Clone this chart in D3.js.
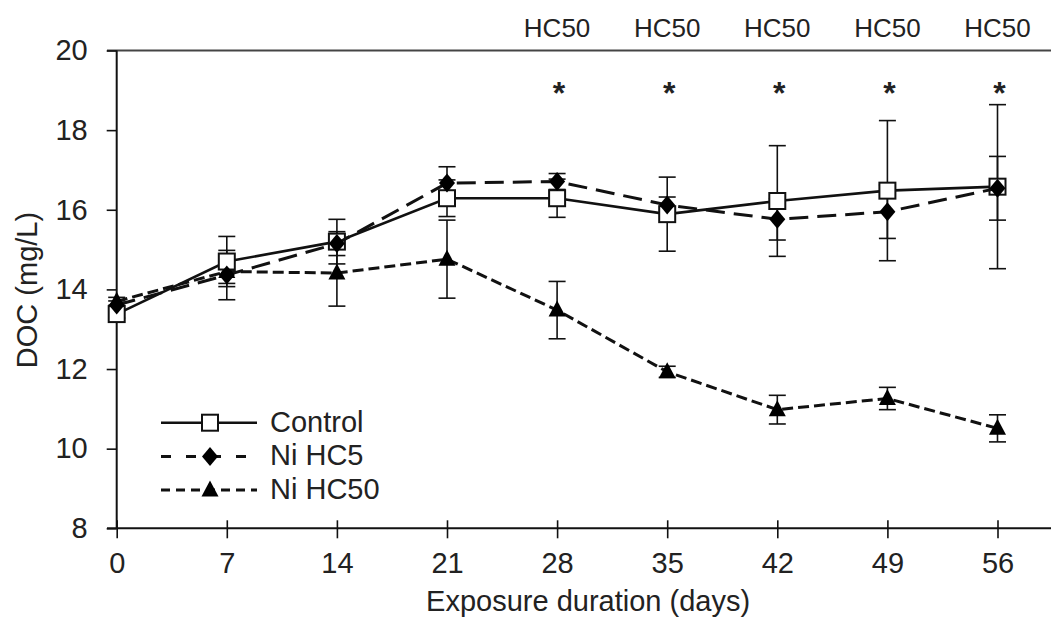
<!DOCTYPE html>
<html>
<head>
<meta charset="utf-8">
<script src="https://cdn.jsdelivr.net/npm/d3@7/dist/d3.min.js"></script>
<style>
  html, body { margin: 0; padding: 0; background: #fff; }
  svg { display: block; }
  text { font-family: "Liberation Sans", Arial, sans-serif; fill: #222; }
</style>
</head>
<body>
<svg id="chart" width="1051" height="618"></svg>
<script>
// Sampling days
const days = [0, 7, 14, 21, 28, 35, 42, 49, 56];

// Mean DOC (mg/L) per treatment
const control   = [13.38, 14.70, 15.20, 16.29, 16.29, 15.89, 16.22, 16.48, 16.58];
const niHC5     = [13.61, 14.36, 15.15, 16.67, 16.71, 16.12, 15.76, 15.95, 16.54];
const niHC50    = [13.70, 14.45, 14.41, 14.76, 13.48, 11.93, 10.98, 11.26, 10.51];

// Standard deviations
const controlSD = [0.10, 0.63, 0.56, 0.46, 0.48, 0.93, 1.39, 1.76, 2.06];
const niHC5SD   = [0.10, 0.62, 0.30, 0.41, 0.20, 0.20, 0.52, 0.67, 0.80];
const niHC50SD  = [0.10, 0.30, 0.83, 0.98, 0.72, 0.14, 0.36, 0.28, 0.34];

// Days where Ni HC50 differs significantly from control
const sigDays   = [28, 35, 42, 49, 56];
const sigLabel  = "HC50";

const yTicks = [8, 10, 12, 14, 16, 18, 20];
const seriesNames = ["Control", "Ni HC5", "Ni HC50"];

const svg = d3.select("#chart");
const x = d3.scaleLinear().domain([0, 56]).range([116.7, 997.5]);
const y = d3.scaleLinear().domain([8, 20]).range([528.3, 50.5]);

const xLeft = 107, xRight = 1051;

// Top frame line
svg.append("line")
  .attr("x1", xLeft).attr("x2", xRight)
  .attr("y1", y(20)).attr("y2", y(20))
  .attr("stroke", "#444").attr("stroke-width", 2);

// Y axis
const yAxis = svg.append("g")
  .attr("transform", `translate(${x(0)},0)`)
  .call(d3.axisLeft(y).tickValues(yTicks).tickSizeInner(10).tickSizeOuter(0).tickPadding(19));
yAxis.select(".domain").remove();
yAxis.selectAll(".tick line").attr("stroke", "#111").attr("stroke-width", 1.6);
yAxis.selectAll(".tick text").attr("font-size", 29).style("font-family", "'Liberation Sans', Arial, sans-serif").attr("fill", "#222");
svg.append("line")
  .attr("x1", x(0)).attr("x2", x(0))
  .attr("y1", y(20)).attr("y2", y(8))
  .attr("stroke", "#111").attr("stroke-width", 2);

// X axis
const xAxis = svg.append("g")
  .attr("transform", `translate(0,${y(8)})`)
  .call(d3.axisBottom(x).tickValues(days).tickSizeInner(10).tickSizeOuter(0).tickPadding(14));
xAxis.select(".domain").remove();
xAxis.selectAll(".tick line").attr("y1", -8).attr("y2", 10).attr("stroke", "#111").attr("stroke-width", 1.6);
xAxis.selectAll(".tick text").attr("font-size", 29).style("font-family", "'Liberation Sans', Arial, sans-serif").attr("fill", "#222");
svg.append("line")
  .attr("x1", xLeft).attr("x2", xRight)
  .attr("y1", y(8)).attr("y2", y(8))
  .attr("stroke", "#111").attr("stroke-width", 2);

// Axis titles
svg.append("text")
  .attr("x", (x(0) + x(56)) / 2 + 31).attr("y", 611)
  .attr("text-anchor", "middle").attr("font-size", 29)
  .text("Exposure duration (days)");
svg.append("text")
  .attr("transform", `translate(37,${290}) rotate(-90)`)
  .attr("text-anchor", "middle").attr("font-size", 29)
  .text("DOC (mg/L)");

// Series definitions
const series = [
  { name: seriesNames[2], mean: niHC50, sd: niHC50SD, dash: "11,5", legendDash: "9,6", symbol: "triangle" },
  { name: seriesNames[0], mean: control, sd: controlSD, dash: null, legendDash: null, symbol: "square" },
  { name: seriesNames[1], mean: niHC5, sd: niHC5SD, dash: "19,9", legendDash: "10,15", symbol: "diamond" }
];

const line = d3.line().x((d, i) => x(days[i])).y(d => y(d));
const capHalf = 8.5;

// Error bars (beneath all lines and markers)
const errG = svg.append("g");
series.forEach(s => {
  s.mean.forEach((m, i) => {
    const cx = x(days[i]);
    const top = y(m + s.sd[i]), bot = y(m - s.sd[i]);
    errG.append("line").attr("x1", cx).attr("x2", cx).attr("y1", top).attr("y2", bot)
      .attr("stroke", "#111").attr("stroke-width", 1.6);
    [top, bot].forEach(yy => errG.append("line")
      .attr("x1", cx - capHalf).attr("x2", cx + capHalf).attr("y1", yy).attr("y2", yy)
      .attr("stroke", "#111").attr("stroke-width", 1.6));
  });
});

function drawMarker(g, kind, cx, cy) {
  if (kind === "square") {
    g.append("rect").attr("x", cx - 8).attr("y", cy - 8).attr("width", 16).attr("height", 16)
      .attr("fill", "#fff").attr("stroke", "#111").attr("stroke-width", 2);
  } else if (kind === "diamond") {
    g.append("path").attr("d", `M${cx},${cy - 9.5}L${cx + 8},${cy}L${cx},${cy + 9.5}L${cx - 8},${cy}Z`)
      .attr("fill", "#000");
  } else {
    g.append("path").attr("d", `M${cx},${cy - 9.5}L${cx + 8.5},${cy + 6.5}L${cx - 8.5},${cy + 6.5}Z`)
      .attr("fill", "#000");
  }
}

// Lines and markers
series.forEach(s => {
  const g = svg.append("g");
  g.append("path").datum(s.mean).attr("d", line)
    .attr("fill", "none").attr("stroke", "#111").attr("stroke-width", s.dash ? 3 : 2.6)
    .attr("stroke-dasharray", s.dash);
  s.mean.forEach((m, i) => drawMarker(g, s.symbol, x(days[i]), y(m)));
});

// Significance annotations
sigDays.forEach(d => {
  svg.append("text").attr("x", x(d)).attr("y", 37)
    .attr("text-anchor", "middle").attr("font-size", 26).attr("fill", "#1c1c30")
    .text(sigLabel);
  svg.append("text").attr("x", x(d) + 2).attr("y", 104)
    .attr("text-anchor", "middle").attr("font-size", 32).attr("font-weight", "bold").attr("fill", "#000")
    .text("*");
});

// Legend
const legend = svg.append("g");
const legendOrder = [series[1], series[2], series[0]];
legendOrder.forEach((s, i) => {
  const ly = 422.7 + i * 33.7;
  legend.append("line").attr("x1", 161).attr("x2", 257).attr("y1", ly).attr("y2", ly)
    .attr("stroke", "#111").attr("stroke-width", s.legendDash ? 3 : 2.6)
    .attr("stroke-dasharray", s.legendDash);
  drawMarker(legend, s.symbol, 210, ly);
  legend.append("text").attr("x", 270).attr("y", ly + 9).attr("font-size", 29).text(s.name);
});
</script>
</body>
</html>
